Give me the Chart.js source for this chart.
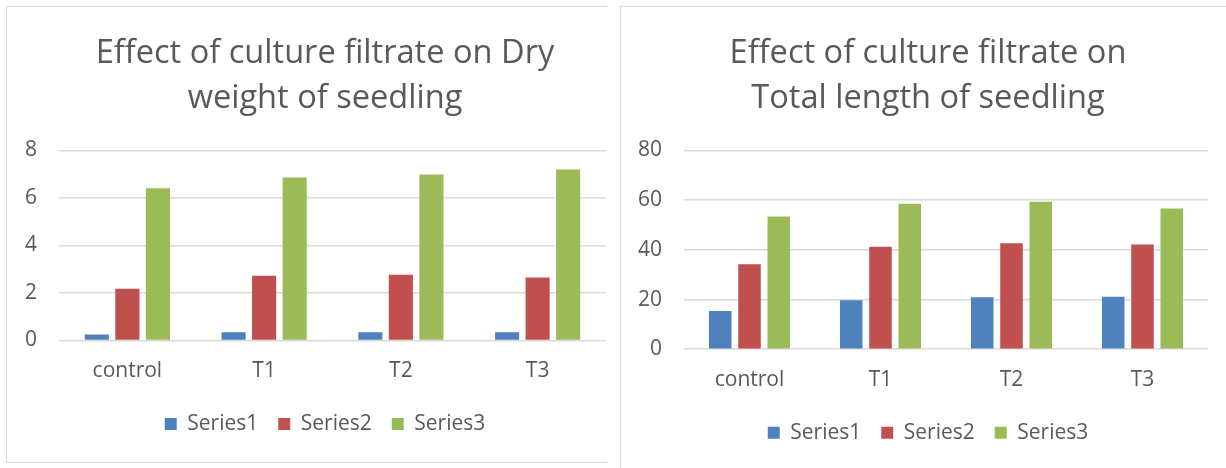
<!DOCTYPE html>
<html>
<head>
<meta charset="utf-8">
<script src="https://cdn.jsdelivr.net/npm/chart.js@4.4.1/dist/chart.umd.min.js"></script>
<style>
  body { margin: 0; background: #fff; width: 1226px; height: 468px; overflow: hidden; position: relative; }
  .box { position: absolute; overflow: hidden; background: #fff; }
  #boxLeft { left: 6px; top: 6px; width: 600px; height: 455px; border-left: 1px solid #d9d9d9; border-top: 1px solid #d9d9d9; border-bottom: 1px solid #d9d9d9; }
  #boxRight { left: 620px; top: 6px; width: 620px; height: 470px; border-left: 1px solid #d9d9d9; border-top: 1px solid #d9d9d9; }
  canvas { position: absolute; left: 0; top: 0; }
</style>
</head>
<body>
<div class="box" id="boxLeft"><canvas id="dryWeight" width="636" height="453"></canvas></div>
<div class="box" id="boxRight"><canvas id="totalLength" width="614" height="461"></canvas></div>
<script>

const categories = ['control', 'T1', 'T2', 'T3'];
const seriesNames = ['Series1', 'Series2', 'Series3'];
const seriesColors = ['#4f81bd', '#c0504d', '#9bbb59'];

// dry weight of seedling
const drySeries1 = [0.25, 0.34, 0.34, 0.34];
const drySeries2 = [2.18, 2.72, 2.77, 2.65];
const drySeries3 = [6.41, 6.86, 6.99, 7.2];

// total length of seedling
const lenSeries1 = [15.4, 19.7, 20.9, 21.1];
const lenSeries2 = [34.2, 41.2, 42.7, 42.1];
const lenSeries3 = [53.4, 58.6, 59.4, 56.6];

const textColor = '#595959';
const gridColor = '#d9d9d9';
const fontName = "'Open Sans', sans-serif";


function makeChart(canvasId, titleLines, seriesData, yMax, yStep, opts) {

    const ctx = document.getElementById(canvasId).getContext('2d');

    return new Chart(ctx, {

        type: 'bar',
        data: {

            labels: categories,
            datasets: seriesData.map((values, i) => ({

                label: seriesNames[i],
                data: values,
                backgroundColor: seriesColors[i],
                borderWidth: 0,
                categoryPercentage: 0.67,
                barPercentage: opts.barPct
            }))
        },
        options: {

            responsive: false,
            animation: false,
            layout: {

                padding: { top: 0, left: 0, right: 0, bottom: opts.padBottom }
            },
            plugins: {

                title: {

                    display: true,
                    text: titleLines,
                    color: textColor,
                    font: { family: fontName, size: 32.6, weight: 'normal', lineHeight: 1.38 },
                    padding: { top: 24.5, bottom: 29 }
                },
                legend: {

                    position: 'bottom',
                    labels: {

                        color: textColor,
                        font: { family: fontName, size: 21 },
                        boxWidth: 12,
                        boxHeight: 12,
                        padding: 20
                    }
                },
                tooltip: { enabled: false }
            },
            scales: {

                x: {

                    grid: { display: false },
                    border: { display: false },
                    ticks: {

                        color: textColor,
                        font: { family: fontName, size: 21 },
                        padding: 10.5
                    },
                    afterFit: function (scale) {

                        scale.height -= 1.2;
                    }
                },
                y: {

                    min: 0,
                    max: yMax,
                    grid: { color: gridColor, lineWidth: 1.5, drawTicks: false },
                    border: { display: false },
                    ticks: {

                        stepSize: yStep,
                        color: textColor,
                        font: { family: fontName, size: 21 },
                        padding: 22
                    },
                    afterFit: function (scale) {

                        scale.width = opts.axisWidth;
                    }
                },
                // empty right-hand axis, only keeps the plot short of the canvas edge
                yRight: {

                    position: 'right',
                    grid: { display: false },
                    border: { display: false },
                    ticks: { display: false },
                    afterFit: function (scale) {

                        scale.width = opts.padRight;
                    }
                }
            }
        }
    });
}


makeChart('dryWeight',
    ['Effect of culture filtrate on Dry', 'weight of seedling'],
    [drySeries1, drySeries2, drySeries3], 8, 2,
    { barPct: 0.79, padRight: 37, padBottom: 15.6, axisWidth: 52 });

makeChart('totalLength',
    ['Effect of culture filtrate on', 'Total length of seedling'],
    [lenSeries1, lenSeries2, lenSeries3], 80, 20,
    { barPct: 0.77, padRight: 27, padBottom: 14.8, axisWidth: 63 });

</script>
</body>
</html>
